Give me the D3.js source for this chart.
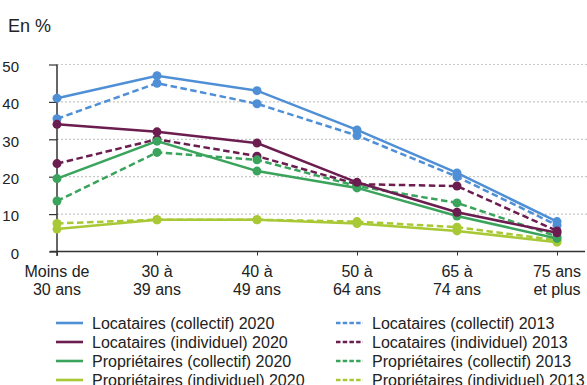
<!DOCTYPE html>
<html><head><meta charset="utf-8">
<script src="https://cdn.jsdelivr.net/npm/d3@7"></script>
<style>
body{margin:0;background:#fff;}
svg{display:block;font-family:"Liberation Sans",Arial,sans-serif;}
</style></head>
<body>
<svg id="c" width="587" height="385"></svg>
<script>
const categories = [["Moins de","30 ans"],["30 à","39 ans"],["40 à","49 ans"],["50 à","64 ans"],["65 à","74 ans"],["75 ans","et plus"]];
const yTicks = [0,10,20,30,40,50];
const locCollectif2020 = [41, 47, 43, 32.5, 21, 8];
const locCollectif2013 = [35.5, 45, 39.5, 31, 20, 7];
const locIndividuel2020 = [34, 32, 29, 18.5, 10.5, 5];
const locIndividuel2013 = [23.5, 30, 25.5, 18, 17.5, 5.5];
const propCollectif2020 = [19.5, 29.5, 21.5, 17, 9.5, 3.5];
const propCollectif2013 = [13.5, 26.5, 24.5, 17.5, 13, 4];
const propIndividuel2020 = [6, 8.5, 8.5, 7.5, 5.5, 2.5];
const propIndividuel2013 = [7.5, 8.5, 8.5, 8, 6.5, 3];

const series = [
  {name:"Locataires (collectif) 2013", values:locCollectif2013, color:"#4f8fd6", dash:true},
  {name:"Locataires (individuel) 2013", values:locIndividuel2013, color:"#6b1d4f", dash:true},
  {name:"Propriétaires (collectif) 2013", values:propCollectif2013, color:"#3aa35c", dash:true},
  {name:"Propriétaires (individuel) 2013", values:propIndividuel2013, color:"#a8c935", dash:true},
  {name:"Propriétaires (individuel) 2020", values:propIndividuel2020, color:"#a8c935", dash:false},
  {name:"Propriétaires (collectif) 2020", values:propCollectif2020, color:"#3aa35c", dash:false},
  {name:"Locataires (individuel) 2020", values:locIndividuel2020, color:"#6b1d4f", dash:false},
  {name:"Locataires (collectif) 2020", values:locCollectif2020, color:"#4f8fd6", dash:false}
];
const legendLeft = ["Locataires (collectif) 2020","Locataires (individuel) 2020","Propriétaires (collectif) 2020","Propriétaires (individuel) 2020"];
const legendRight = ["Locataires (collectif) 2013","Locataires (individuel) 2013","Propriétaires (collectif) 2013","Propriétaires (individuel) 2013"];

const svg = d3.select("#c");
const x = d3.scalePoint().domain(d3.range(categories.length)).range([57,557]);
const y = d3.scaleLinear().domain([0,50]).range([251.5,64.5]);

svg.append("text").attr("x",8).attr("y",32).attr("font-size",18).attr("fill","#222").text("En %");

// grid
svg.append("g").selectAll("line").data(yTicks.filter(d=>d>0)).join("line")
  .attr("x1",57).attr("x2",587).attr("y1",d=>y(d)).attr("y2",d=>y(d))
  .attr("stroke","#c8c8c8").attr("stroke-width",1.2).attr("stroke-dasharray","2,2");

// y axis
const ya = svg.append("g").attr("transform","translate(57,0)")
  .call(d3.axisLeft(y).tickValues(yTicks).tickSize(8).tickPadding(30));
ya.select(".domain").attr("stroke","#333").attr("stroke-width",1.5).attr("d","M0,64.5V256");
ya.selectAll(".tick line").attr("stroke","#333").attr("stroke-width",1.2);
ya.selectAll(".tick text").attr("font-size",15).attr("fill","#222").attr("dy","0.45em")
  .attr("font-family","Liberation Sans, Arial, sans-serif");

// x axis
const xa = svg.append("g").attr("transform","translate(0,251.5)")
  .call(d3.axisBottom(x).tickSize(4).tickFormat(""));
xa.select(".domain").attr("stroke","#333").attr("stroke-width",1.5).attr("d","M50,0H585");
xa.selectAll(".tick line").attr("stroke","#333");
const lbl = svg.append("g").selectAll("text").data(categories).join("text")
  .attr("x",(d,i)=>x(i)).attr("y",277).attr("text-anchor","middle")
  .attr("font-size",16).attr("fill","#222");
lbl.append("tspan").attr("x",(d,i)=>x(i)).text(d=>d[0]);
lbl.append("tspan").attr("x",(d,i)=>x(i)).attr("dy",17.5).text(d=>d[1]);

// lines
const line = d3.line().x((d,i)=>x(i)).y(d=>y(d));
const g = svg.append("g");
series.forEach(s=>{
  g.append("path").attr("d",line(s.values)).attr("fill","none")
    .attr("stroke",s.color).attr("stroke-width",2.5)
    .attr("stroke-dasharray",s.dash?"6.5,3.5":null);
  g.append("g").selectAll("circle").data(s.values).join("circle")
    .attr("cx",(d,i)=>x(i)).attr("cy",d=>y(d)).attr("r",4.5).attr("fill",s.color);
});

// legend
const col = n => series.find(s=>s.name===n);
function legend(names, x0, dash){
  names.forEach((n,i)=>{
    const yy = 323 + i*19;
    svg.append("line").attr("x1",x0).attr("x2",x0+27).attr("y1",yy).attr("y2",yy)
      .attr("stroke",col(n).color).attr("stroke-width",2.6)
      .attr("stroke-dasharray",dash?"4.5,2.2":null);
    svg.append("text").attr("x",x0+36).attr("y",yy+5.5).attr("font-size",16).attr("fill","#222").text(n);
  });
}
legend(legendLeft,56,false);
legend(legendRight,336,true);
</script>
</body></html>
